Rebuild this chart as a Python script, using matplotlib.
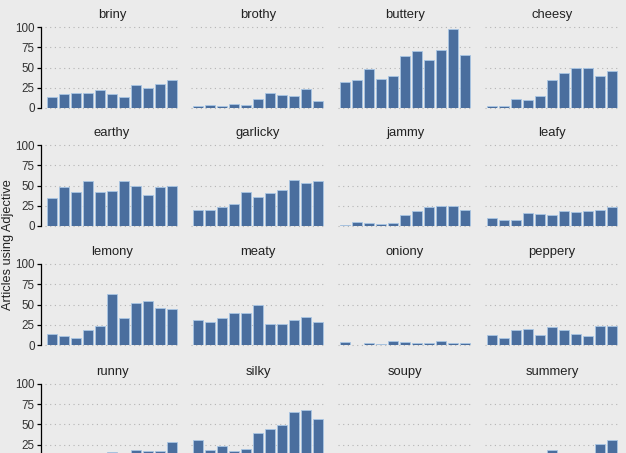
import matplotlib
matplotlib.use("Agg")
import matplotlib.pyplot as plt
import numpy as np

plt.rcParams['font.family'] = ['Liberation Sans', 'DejaVu Sans']

years = list(range(2007, 2018))

briny    = [13, 17, 19, 19, 22, 17, 14, 28, 25, 30, 35]
brothy   = [3, 4, 3, 5, 4, 11, 19, 16, 15, 24, 9]
buttery  = [32, 35, 48, 36, 39, 64, 70, 59, 71, 98, 65]
cheesy   = [3, 3, 11, 10, 15, 35, 43, 50, 50, 40, 46]
earthy   = [35, 48, 42, 56, 42, 43, 55, 50, 38, 48, 50]
garlicky = [20, 20, 24, 27, 42, 36, 41, 44, 57, 53, 55]
jammy    = [1, 5, 4, 2, 4, 14, 18, 23, 25, 25, 20]
leafy    = [10, 7, 8, 16, 15, 14, 19, 17, 18, 20, 23]
lemony   = [14, 11, 9, 19, 24, 63, 33, 52, 54, 46, 44]
meaty    = [31, 28, 33, 40, 40, 49, 26, 26, 31, 35, 28]
oniony   = [4, 0, 2, 1, 5, 4, 3, 3, 5, 3, 2]
peppery  = [12, 9, 19, 20, 12, 22, 18, 14, 11, 23, 24]
runny    = [3, 5, 4, 8, 10, 16, 9, 18, 17, 17, 29]
silky    = [31, 18, 23, 17, 20, 39, 45, 49, 65, 68, 57]
soupy    = [2, 3, 1, 4, 2, 5, 3, 4, 6, 5, 3]
summery  = [3, 5, 6, 9, 15, 18, 12, 10, 15, 26, 31]

adjectives = ["briny", "brothy", "buttery", "cheesy",
              "earthy", "garlicky", "jammy", "leafy",
              "lemony", "meaty", "oniony", "peppery",
              "runny", "silky", "soupy", "summery"]
series = [briny, brothy, buttery, cheesy,
          earthy, garlicky, jammy, leafy,
          lemony, meaty, oniony, peppery,
          runny, silky, soupy, summery]
ytick_vals = [0, 25, 50, 75, 100]

W, H = 626, 453
bg = "#ebebeb"
fig = plt.figure(figsize=(W / 100, H / 100), dpi=100, facecolor=bg)

col_left = [45, 191, 338, 485]
col_w = 134
row_top = [27, 145, 264, 384]
row_h = 81

x = np.arange(len(years))
for i, (name, vals) in enumerate(zip(adjectives, series)):
    r, c = divmod(i, 4)
    left = col_left[c] / W
    bottom = 1 - (row_top[r] + row_h) / H
    ax = fig.add_axes([left, bottom, col_w / W, row_h / H])
    ax.set_facecolor(bg)
    ax.bar(x, vals, width=0.88, color="#4a6e9e", edgecolor="#a9c6e4",
           linewidth=0.6, zorder=3)
    ax.set_xlim(-0.58, len(years) - 0.42)
    ax.set_ylim(0, 100)
    for yv in ytick_vals:
        ax.axhline(yv, color="#b4b4b4", lw=0.8, ls=(0, (1, 3.2)),
                   zorder=1, clip_on=False)
    ax.set_xticks([])
    for s in ["top", "right", "bottom"]:
        ax.spines[s].set_visible(False)
    if c == 0:
        ax.spines["left"].set_position(("outward", 3))
        ax.spines["left"].set_color("black")
        ax.spines["left"].set_linewidth(0.9)
        ax.set_yticks(ytick_vals)
        if r == 3:
            # bottom row: the 0 label lies below the visible picture
            ax.set_yticklabels([""] + [str(v) for v in ytick_vals[1:]])
        ax.tick_params(axis="y", length=3, width=0.9, pad=1.5,
                       labelsize=8.4, labelcolor="#333333", color="black")
    else:
        ax.spines["left"].set_visible(False)
        ax.set_yticks([])
    ax.set_title(name, fontsize=9.4, color="#222222", pad=6.5)

fig.text(8 / W, 1 - 245 / H, "Articles using Adjective", rotation=90,
         ha="center", va="center", fontsize=9.2, color="#222222")

fig.savefig("out.png", dpi=100, facecolor=bg)
